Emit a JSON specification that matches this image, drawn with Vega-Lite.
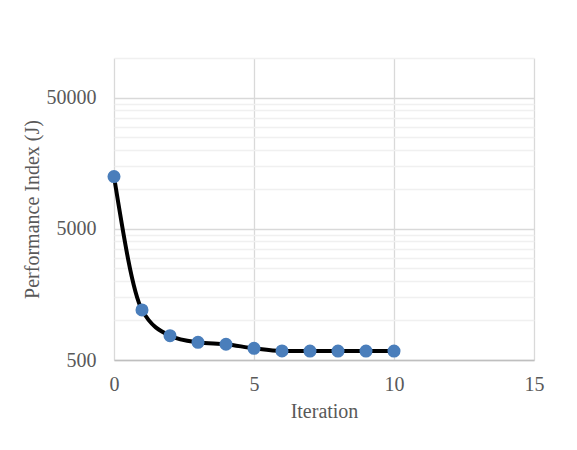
{
  "$schema": "https://vega.github.io/schema/vega-lite/v6.json",
  "width": 420,
  "height": 302,
  "autosize": {"type": "none"},
  "padding": {"top": 58, "left": 114, "right": 43, "bottom": 90},
  "background": "white",
  "config": {
    "view": {"stroke": null},
    "font": "Liberation Serif"
  },
  "data": {
    "values": [
      {"Iteration": 0, "J": 12500},
      {"Iteration": 1, "J": 1204},
      {"Iteration": 2, "J": 766},
      {"Iteration": 3, "J": 682},
      {"Iteration": 4, "J": 659},
      {"Iteration": 5, "J": 614},
      {"Iteration": 6, "J": 586},
      {"Iteration": 7, "J": 585},
      {"Iteration": 8, "J": 585},
      {"Iteration": 9, "J": 585},
      {"Iteration": 10, "J": 585}
    ]
  },
  "encoding": {
    "x": {
      "field": "Iteration",
      "type": "quantitative",
      "scale": {"domain": [0, 15], "nice": false},
      "axis": {
        "title": "Iteration",
        "values": [0, 5, 10, 15],
        "format": "d",
        "labelFlush": false,
        "grid": true,
        "gridColor": "#d9d9d9",
        "gridWidth": 1.3,
        "domainColor": "#bfbfbf",
        "domainWidth": 1.3,
        "ticks": false,
        "labelFont": "Liberation Serif",
        "labelFontSize": 20,
        "labelColor": "#595959",
        "labelPadding": 14,
        "titleFont": "Liberation Serif",
        "titleFontSize": 20,
        "titleFontWeight": "normal",
        "titleColor": "#595959",
        "titlePadding": 7
      }
    },
    "y": {
      "field": "J",
      "type": "quantitative",
      "scale": {"type": "log", "domain": [500, 100000], "nice": false},
      "axis": {
        "title": "Performance Index (J)",
        "values": [500, 1000, 1500, 2000, 2500, 3000, 3500, 4000, 4500, 5000, 10000, 15000, 20000, 25000, 30000, 35000, 40000, 45000, 50000, 100000],
        "labelExpr": "(datum.value == 500 || datum.value == 5000 || datum.value == 50000) ? format(datum.value, 'd') : ''",
        "labelOverlap": false,
        "labelFlush": false,
        "grid": true,
        "gridColor": {
          "condition": {"test": "datum.value == 500 || datum.value == 5000 || datum.value == 50000", "value": "#d9d9d9"},
          "value": "#f0f0f0"
        },
        "gridWidth": 1.3,
        "domain": false,
        "ticks": false,
        "labelFont": "Liberation Serif",
        "labelFontSize": 20,
        "labelColor": "#595959",
        "labelPadding": 18,
        "titleFont": "Liberation Serif",
        "titleFontSize": 20,
        "titleFontWeight": "normal",
        "titleColor": "#595959",
        "titlePadding": 4
      }
    }
  },
  "layer": [
    {
      "mark": {"type": "line", "color": "black", "strokeWidth": 4, "interpolate": "monotone"}
    },
    {
      "mark": {"type": "point", "filled": true, "size": 170, "color": "#4a7ebb", "opacity": 1}
    }
  ]
}
